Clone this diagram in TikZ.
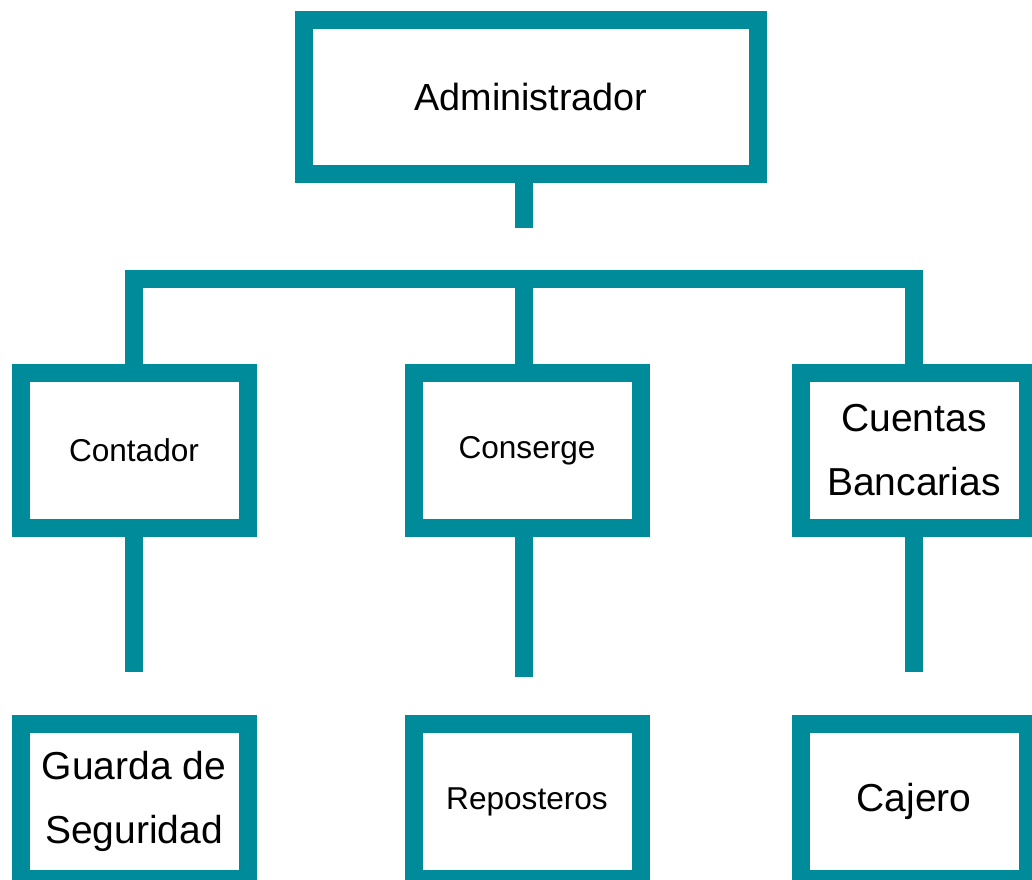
\documentclass[tikz,border=0pt]{standalone}
\usepackage{fontspec}
\setmainfont{Liberation Sans}
\definecolor{orgteal}{RGB}{0,139,155}

\begin{document}
\begin{tikzpicture}[x=0.5pt, y=-0.5pt, line width=9pt, draw=orgteal,
  jefe/.style={draw=orgteal,rectangle,fill=white,text=black,inner sep=0pt,
    minimum width=227pt,minimum height=77pt,font=\fontsize{18.9}{22}\selectfont},
  puesto/.style={draw=orgteal,rectangle,fill=white,text=black,inner sep=0pt,
    minimum width=113.5pt,minimum height=77.5pt,align=center},
  chico/.style={font=\fontsize{15.8}{19}\selectfont},
  grande/.style={font=\fontsize{19.5}{32}\selectfont}]
  \useasboundingbox (0,0) rectangle (1032,879);
  \clip (0,0) rectangle (1032,879);

  \node[jefe] (admin) at (531,97) {Administrador};

  \node[puesto,chico]  (contador) at (134,450.5) {Contador};
  \node[puesto,chico]  (conserge) at (527,450.5) {Conserge};
  \node[puesto,grande] (cuentas)  at (914,450.5) {Cuentas\\Bancarias};

  \node[puesto,grande] (guarda)     at (134,801.5) {Guarda de\\Seguridad};
  \node[puesto,chico]  (reposteros) at (527,801.5) {Reposteros};
  \node[puesto,grande] (cajero)     at (914,801.5) {Cajero};

  % bar and stubs
  \coordinate (stub) at (524,228);
  \coordinate (barL) at (134,279);
  \coordinate (barM) at (524,279);
  \coordinate (barR) at (914,279);
  \coordinate (finA) at (134,672);
  \coordinate (finB) at (524,677);
  \coordinate (finC) at (914,672);

  \draw[orgteal] (admin.south -| stub) -- (stub);
  \draw[orgteal] (contador.north) -- (barL) -- (barR) -- (cuentas.north);
  \draw[orgteal] (barM) -- (conserge.north -| barM);

  \draw[orgteal] (contador.south) -- (finA);
  \draw[orgteal] (conserge.south -| finB) -- (finB);
  \draw[orgteal] (cuentas.south) -- (finC);
\end{tikzpicture}
\end{document}
